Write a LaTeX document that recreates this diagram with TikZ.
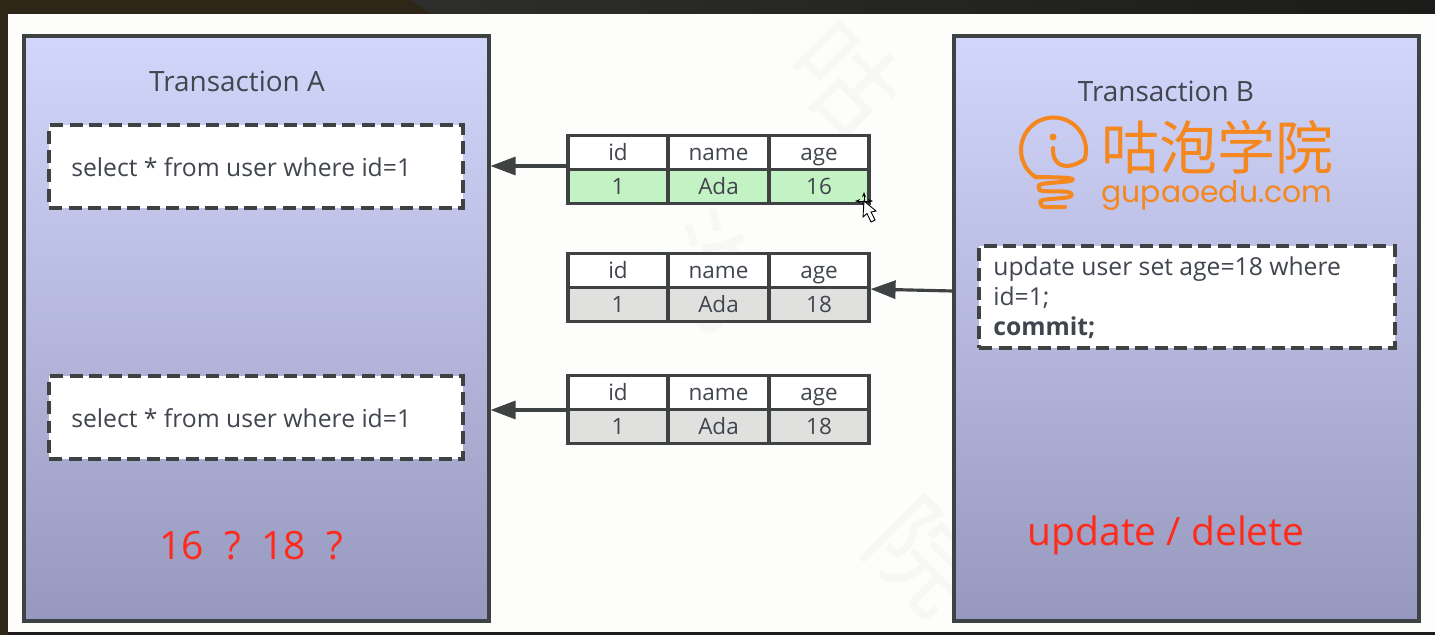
\documentclass[tikz,border=0pt]{standalone}
\usepackage{fontspec}
\setmainfont{Open Sans}
\newfontfamily\logocjk{Noto Sans CJK SC}
\newfontfamily\logolatin{Poppins}
\usetikzlibrary{arrows.meta}
\definecolor{framegray}{HTML}{3F4243}
\definecolor{textgray}{HTML}{41454E}
\definecolor{panetop}{HTML}{D3D6FB}
\definecolor{panebottom}{HTML}{9798BE}
\definecolor{rowgreen}{HTML}{C3F3C5}
\definecolor{rowgray}{HTML}{E0E0DF}
\definecolor{noticered}{HTML}{FF2A1A}
\definecolor{logoorange}{HTML}{F5871F}
\definecolor{stagedark}{HTML}{2E2E2D}
\definecolor{stageright}{HTML}{1B1B1A}
\definecolor{stagebrown}{HTML}{2E2718}
\definecolor{slidewhite}{HTML}{FDFDFB}
\definecolor{markgray}{HTML}{F7F7F5}
\tikzset{
	panel/.style={draw=framegray,line width=1.8pt,top color=panetop,bottom color=panebottom,minimum width=9.3cm,minimum height=11.7cm,inner sep=0pt},
	title/.style={text=textgray,font=\fontsize{15.9}{18}\selectfont},
	query/.style={draw=framegray,line width=1.8pt,dash pattern=on 0.26cm off 0.13cm,fill=white,inner sep=0pt},
	querytext/.style={text=textgray,font=\fontsize{14.05}{17}\selectfont,align=left,inner sep=0pt,anchor=west},
	cell/.style={draw=framegray,line width=1.8pt,fill=white,minimum width=2cm,minimum height=0.68cm,inner sep=0pt,text=textgray,text height=11.5pt,text depth=2.2pt,font=\fontsize{12.8}{16}\selectfont},
	flow/.style={draw=framegray,line width=1.8pt,-{Triangle[length=0.5cm,width=0.36cm]}},
	notice/.style={text=noticered,font=\fontsize{22.2}{25}\selectfont},
	wmark/.style={text=markgray,font=\logocjk\fontsize{60}{64}\selectfont},
	logoline/.style={draw=logoorange,line width=2.3pt,line cap=round,line join=round},
}
\begin{document}
\begin{tikzpicture}[x=0.02cm,y=-0.02cm]
	\useasboundingbox (0,0) rectangle (1435,635);
	% slide on the dark stage
	\fill[left color=stagedark,right color=stageright] (400,0) rectangle (1435,14);
	\fill[stageright] (0,632) rectangle (1435,635);
	\fill[stagebrown] (0,0) -- (410,0) -- (432,14) -- (0,14) -- cycle;
	\fill[stagebrown] (0,14) rectangle (8,635);
	\fill[slidewhite] (8,14) rectangle (1435,632);
	% watermark
	\node[wmark,rotate=-45] (markone) at (845,78) {咕};
	\node[wmark,rotate=-45] (marktwo) at (710,270) {泡};
	\node[wmark,rotate=-45] (markthree) at (925,555) {院};
	% the two transactions
	\node[panel] (panela) at (256.5,328.5) {};
	\node[panel] (panelb) at (1186.5,328.5) {};
	\node[title] (titlea) at (237,81) {Transaction A};
	\node[title] (titleb) at (1166,91) {Transaction B};
	\node[query,minimum width=8.28cm,minimum height=1.66cm] (querya) at (256,166.5) {};
	\node[query,minimum width=8.28cm,minimum height=1.66cm] (queryc) at (256,417.5) {};
	\node[query,minimum width=8.32cm,minimum height=2.04cm] (queryb) at (1187,297) {};
	\node[querytext] (selecta) at (71,167) {select * from user where id=1};
	\node[querytext] (selectc) at (71,418) {select * from user where id=1};
	\node[querytext] (updateb) at (993,298) {update user set age=18 where\\id=1;\\\textbf{commit;}};
	\node[notice] (noticea) at (251,546) {16\ \ ?\ \ 18\ \ ?};
	\node[notice] (noticeb) at (1166,535) {update / delete};
	% logo
	\fill[logoorange] (1053,137) circle (0.07cm);
	\draw[logoline] plot[domain=15:-238,samples=50,variable=\a] ({1053.5+32.5*cos(\a)},{150+32.5*sin(\a)});
	\draw[logoline] (1053,148) .. controls (1052,166) and (1066,172) .. (1085,159);
	\draw[logoline] plot[smooth,tension=0.6] coordinates {(1036,177) (1068,178) (1070,181) (1042,184) (1039,188) (1043,191) (1068,192) (1069,197) (1043,200) (1041,204) (1045,207) (1065,207)};
	\node[text=logoorange,font=\logocjk\fontsize{33}{36}\selectfont,inner sep=0pt] (logocn) at (1217,147) {咕泡学院};
	\node[text=logoorange,font=\logolatin\fontsize{17}{20}\selectfont,inner sep=0pt] (logoen) at (1217,195) {gupaoedu.com};
	% the three rows
	\foreach \tname/\ty/\rowfill/\agev in {one/135/rowgreen/16,two/253/rowgray/18,three/375/rowgray/18} {
		\foreach \cname/\cx/\chead/\cval in {id/618/id/1,name/718.5/name/Ada,age/819/age/\agev} {
			\node[cell] (\tname-\cname-head) at (\cx,\ty+17.5) {\chead};
			\node[cell,fill=\rowfill] (\tname-\cname-val) at (\cx,\ty+51.5) {\cval};
		}
	}
	% reads and the write
	\coordinate (readone) at (568,166);
	\coordinate (writetwo) at (953,291);
	\coordinate (readthree) at (568,410);
	\draw[flow] (readone) -- (readone -| panela.east);
	\draw[flow] (writetwo) -- (two-age-head.south east);
	\draw[flow] (readthree) -- (readthree -| panela.east);
	% mouse pointer
	\coordinate (pointer) at (864,201);
	\draw[black,line width=0.5pt,{Stealth[length=3pt]}-{Stealth[length=3pt]}] (855,201) -- (873,201);
	\draw[black,line width=0.5pt,{Stealth[length=3pt]}-{Stealth[length=3pt]}] (864,192) -- (864,208);
	\filldraw[fill=white,draw=black,line width=0.5pt] (pointer) -- (863,217) -- (867,213.5) -- (871,222) -- (875,220) -- (871,212) -- (876,211) -- cycle;
\end{tikzpicture}
\end{document}
